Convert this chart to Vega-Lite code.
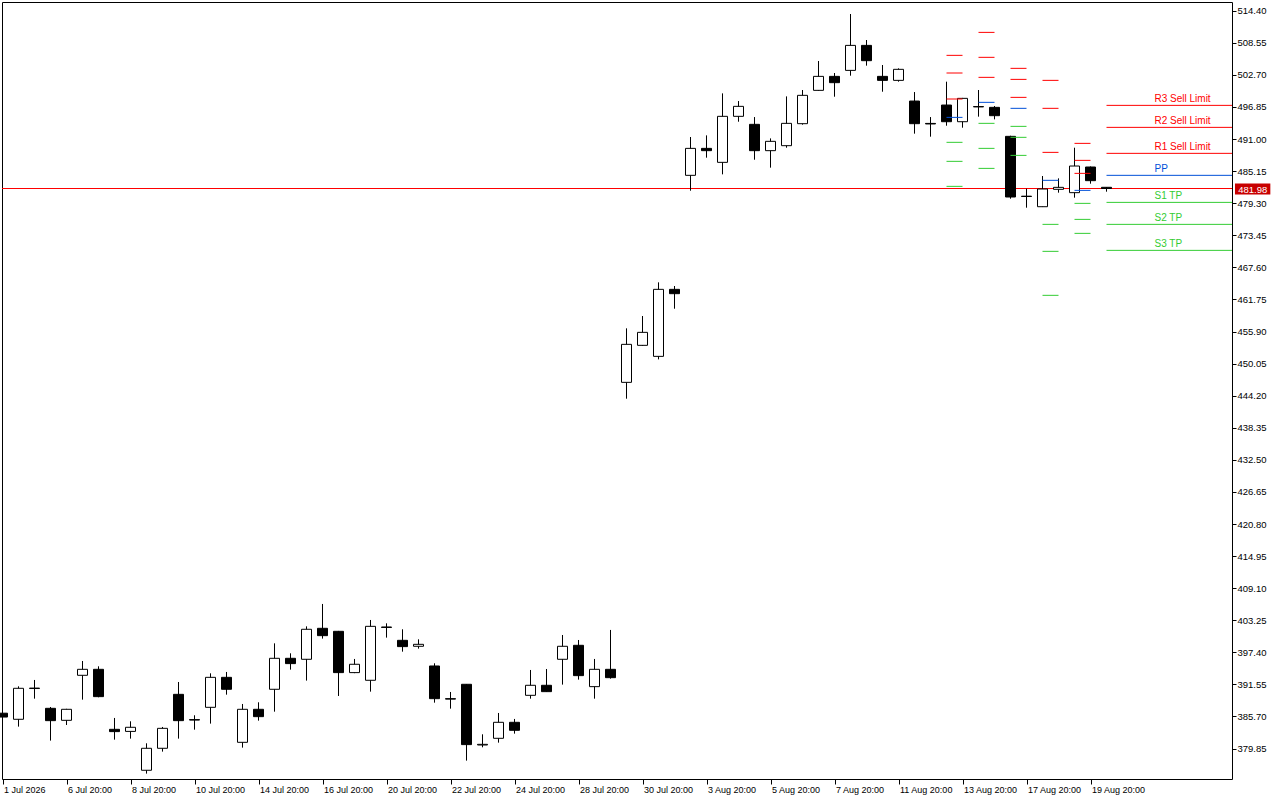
{
  "$schema": "https://vega.github.io/schema/vega-lite/v6.json",
  "width": 1230,
  "height": 777,
  "autosize": {"type": "none"},
  "padding": {"left": 2, "top": 2, "right": 48, "bottom": 21},
  "background": "white",
  "config": {
    "view": {"stroke": "black", "strokeWidth": 1},
    "scale": {"continuousPadding": 0},
    "axis": {"labelFont": "Liberation Sans", "labelColor": "black", "tickColor": "black", "domain": false, "grid": false, "title": null, "labelOverlap": false, "labelBound": false, "labelFlush": false}
  },
  "datasets": {
    "candles": [
      {"i":0,"o":386.3,"h":386.5,"l":385.5,"c":385.6},
      {"i":1,"o":385.19,"h":391.2,"l":383.85,"c":390.84},
      {"i":2,"o":390.8,"h":392.36,"l":388.95,"c":390.88},
      {"i":3,"o":387.19,"h":387.43,"l":381.3,"c":384.94},
      {"i":4,"o":385.0,"h":387.1,"l":384.15,"c":387.01},
      {"i":5,"o":393.21,"h":395.82,"l":388.77,"c":394.3},
      {"i":6,"o":394.3,"h":394.85,"l":389.2,"c":389.32},
      {"i":7,"o":383.36,"h":385.43,"l":381.48,"c":382.94},
      {"i":8,"o":382.98,"h":384.82,"l":381.66,"c":383.73},
      {"i":9,"o":375.89,"h":380.81,"l":375.28,"c":379.9},
      {"i":10,"o":379.9,"h":383.79,"l":379.29,"c":383.54},
      {"i":11,"o":389.74,"h":391.99,"l":381.66,"c":384.94},
      {"i":12,"o":385.13,"h":385.92,"l":383.3,"c":385.05},
      {"i":13,"o":387.37,"h":393.57,"l":384.4,"c":392.84},
      {"i":14,"o":392.84,"h":393.82,"l":389.68,"c":390.66},
      {"i":15,"o":380.99,"h":387.98,"l":380.02,"c":387.01},
      {"i":16,"o":387.01,"h":388.29,"l":384.94,"c":385.67},
      {"i":17,"o":390.66,"h":399.04,"l":386.58,"c":396.31},
      {"i":18,"o":396.31,"h":397.22,"l":394.24,"c":395.34},
      {"i":19,"o":396.13,"h":402.14,"l":392.24,"c":401.6},
      {"i":20,"o":401.78,"h":406.22,"l":399.9,"c":400.44},
      {"i":21,"o":401.23,"h":401.3,"l":389.44,"c":393.7},
      {"i":22,"o":393.7,"h":396.19,"l":393.6,"c":395.22},
      {"i":23,"o":392.3,"h":403.3,"l":390.23,"c":402.14},
      {"i":24,"o":402.02,"h":402.69,"l":400.08,"c":401.94},
      {"i":25,"o":399.59,"h":401.6,"l":397.52,"c":398.44},
      {"i":26,"o":398.5,"h":399.77,"l":398.07,"c":398.86},
      {"i":27,"o":394.91,"h":395.4,"l":388.22,"c":388.95},
      {"i":28,"o":388.95,"h":390.17,"l":387.13,"c":388.87},
      {"i":29,"o":391.57,"h":391.6,"l":377.65,"c":380.57},
      {"i":30,"o":380.5,"h":382.45,"l":380.08,"c":380.62},
      {"i":31,"o":381.72,"h":386.34,"l":380.93,"c":384.64},
      {"i":32,"o":384.64,"h":385.25,"l":382.57,"c":383.18},
      {"i":33,"o":389.56,"h":394.18,"l":388.95,"c":391.39},
      {"i":34,"o":391.39,"h":394.36,"l":390.2,"c":390.23},
      {"i":35,"o":396.13,"h":400.56,"l":391.51,"c":398.5},
      {"i":36,"o":398.68,"h":399.65,"l":392.42,"c":393.15},
      {"i":37,"o":391.14,"h":396.19,"l":388.95,"c":394.3},
      {"i":38,"o":394.3,"h":401.48,"l":392.6,"c":392.78},
      {"i":39,"o":446.63,"h":456.48,"l":443.65,"c":453.56},
      {"i":40,"o":453.38,"h":458.73,"l":453.3,"c":455.75},
      {"i":41,"o":451.37,"h":464.87,"l":450.82,"c":463.59},
      {"i":42,"o":463.59,"h":464.2,"l":460.06,"c":462.8},
      {"i":43,"o":484.38,"h":491.37,"l":481.58,"c":489.3},
      {"i":44,"o":489.3,"h":491.67,"l":487.6,"c":488.88},
      {"i":45,"o":486.75,"h":499.33,"l":484.56,"c":495.14},
      {"i":46,"o":495.14,"h":497.93,"l":494.16,"c":496.96},
      {"i":47,"o":493.68,"h":495.01,"l":487.23,"c":488.88},
      {"i":48,"o":488.88,"h":491.12,"l":485.78,"c":490.58},
      {"i":49,"o":489.79,"h":498.78,"l":489.42,"c":493.86},
      {"i":50,"o":493.8,"h":499.94,"l":493.62,"c":498.97},
      {"i":51,"o":499.88,"h":505.23,"l":499.8,"c":502.43},
      {"i":52,"o":502.43,"h":503.04,"l":498.72,"c":501.28},
      {"i":53,"o":503.52,"h":513.8,"l":502.55,"c":508.08},
      {"i":54,"o":508.08,"h":509.06,"l":504.38,"c":505.29},
      {"i":55,"o":502.43,"h":504.5,"l":499.63,"c":501.7},
      {"i":56,"o":501.7,"h":503.89,"l":501.46,"c":503.71},
      {"i":57,"o":497.93,"h":499.57,"l":491.98,"c":493.8},
      {"i":58,"o":493.85,"h":495.01,"l":491.43,"c":493.75},
      {"i":59,"o":497.2,"h":501.46,"l":493.43,"c":494.16},
      {"i":60,"o":494.16,"h":498.5,"l":493.07,"c":498.42},
      {"i":61,"o":496.92,"h":499.94,"l":495.08,"c":496.86},
      {"i":62,"o":496.78,"h":497.02,"l":494.59,"c":495.26},
      {"i":63,"o":491.49,"h":491.6,"l":480.12,"c":480.43},
      {"i":64,"o":480.58,"h":481.95,"l":478.48,"c":480.52},
      {"i":65,"o":478.66,"h":484.26,"l":478.6,"c":481.89},
      {"i":66,"o":481.83,"h":483.83,"l":481.22,"c":482.19},
      {"i":67,"o":481.22,"h":489.42,"l":480.31,"c":486.08},
      {"i":68,"o":485.9,"h":486.0,"l":482.86,"c":483.41},
      {"i":69,"o":482.2,"h":482.25,"l":481.4,"c":481.98}
    ],
    "levels": [
      {"start":59,"end":60,"kind":"R","price":506.26},
      {"start":59,"end":60,"kind":"R","price":503.04},
      {"start":59,"end":60,"kind":"R","price":498.30},
      {"start":59,"end":60,"kind":"P","price":494.95},
      {"start":59,"end":60,"kind":"S","price":490.40},
      {"start":59,"end":60,"kind":"S","price":486.93},
      {"start":59,"end":60,"kind":"S","price":482.37},
      {"start":61,"end":62,"kind":"R","price":510.45},
      {"start":61,"end":62,"kind":"R","price":505.90},
      {"start":61,"end":62,"kind":"R","price":502.25},
      {"start":61,"end":62,"kind":"P","price":497.69},
      {"start":61,"end":62,"kind":"S","price":493.86},
      {"start":61,"end":62,"kind":"S","price":489.30},
      {"start":61,"end":62,"kind":"S","price":485.65},
      {"start":63,"end":64,"kind":"R","price":503.89},
      {"start":63,"end":64,"kind":"R","price":501.88},
      {"start":63,"end":64,"kind":"R","price":498.60},
      {"start":63,"end":64,"kind":"P","price":496.60},
      {"start":63,"end":64,"kind":"S","price":493.31},
      {"start":63,"end":64,"kind":"S","price":491.31},
      {"start":63,"end":64,"kind":"S","price":488.02},
      {"start":65,"end":66,"kind":"R","price":501.70},
      {"start":65,"end":66,"kind":"R","price":496.60},
      {"start":65,"end":66,"kind":"R","price":488.57},
      {"start":65,"end":66,"kind":"P","price":483.47},
      {"start":65,"end":66,"kind":"S","price":475.44},
      {"start":65,"end":66,"kind":"S","price":470.52},
      {"start":65,"end":66,"kind":"S","price":462.50},
      {"start":67,"end":68,"kind":"R","price":490.21},
      {"start":67,"end":68,"kind":"R","price":487.11},
      {"start":67,"end":68,"kind":"R","price":484.74},
      {"start":67,"end":68,"kind":"P","price":481.64},
      {"start":67,"end":68,"kind":"S","price":479.27},
      {"start":67,"end":68,"kind":"S","price":476.35},
      {"start":67,"end":68,"kind":"S","price":473.80}
    ],
    "current": [
      {"label":"R3 Sell Limit","kind":"R","price":497.14},
      {"label":"R2 Sell Limit","kind":"R","price":493.13},
      {"label":"R1 Sell Limit","kind":"R","price":488.39},
      {"label":"PP","kind":"P","price":484.38},
      {"label":"S1 TP","kind":"S","price":479.45},
      {"label":"S2 TP","kind":"S","price":475.44},
      {"label":"S3 TP","kind":"S","price":470.70}
    ],
    "last": [{"price":481.98,"text":"481.98"}]
  },
  "layer": [
    {
      "data": {"name": "last"},
      "mark": {"type": "rule", "color": "#FF0000", "strokeWidth": 1},
      "encoding": {
        "y": {"field": "price", "type": "quantitative", "scale": {"domain": [374.30, 515.99], "nice": false, "zero": false, "padding": 0},
          "axis": {"orient": "right", "values": [379.85,385.70,391.55,397.40,403.25,409.10,414.95,420.80,426.65,432.50,438.35,444.20,450.05,455.90,461.75,467.60,473.45,479.30,485.15,491.00,496.85,502.70,508.55,514.40],
            "tickCount": 40, "format": ".2f", "tickSize": 4, "labelPadding": 1, "labelFontSize": 9.5, "labelOverlap": false, "labelBound": false, "labelFlush": false}}
      }
    },
    {
      "data": {"name": "candles"},
      "mark": {"type": "rule", "color": "black", "strokeWidth": 1},
      "encoding": {
        "x": {"field": "i", "type": "quantitative", "scale": {"domain": [-0.03125, 76.84375], "nice": false, "zero": false, "padding": 0},
          "axis": {"orient": "bottom", "values": [0,4,8,12,16,20,24,28,32,36,40,44,48,52,56,60,64,68], "tickCount": 40,
            "labelExpr": "['1 Jul 2026','6 Jul 20:00','8 Jul 20:00','10 Jul 20:00','14 Jul 20:00','16 Jul 20:00','20 Jul 20:00','22 Jul 20:00','24 Jul 20:00','28 Jul 20:00','30 Jul 20:00','3 Aug 20:00','5 Aug 20:00','7 Aug 20:00','11 Aug 20:00','13 Aug 20:00','17 Aug 20:00','19 Aug 20:00'][round(datum.value/4)]",
            "labelAlign": "left", "labelOffset": 1, "tickSize": 5, "labelPadding": 1, "labelFontSize": 9, "labelOverlap": false, "labelBound": false, "labelFlush": false}},
        "y": {"field": "l", "type": "quantitative"},
        "y2": {"field": "h"}
      }
    },
    {
      "data": {"name": "candles"},
      "mark": {"type": "bar", "size": 10, "stroke": "black", "strokeWidth": 1},
      "encoding": {
        "x": {"field": "i", "type": "quantitative"},
        "y": {"field": "o", "type": "quantitative"},
        "y2": {"field": "c"},
        "fill": {"condition": {"test": "datum.c < datum.o", "value": "black"}, "value": "white"}
      }
    },
    {
      "data": {"name": "levels"},
      "mark": {"type": "rule", "strokeWidth": 1},
      "encoding": {
        "x": {"field": "start", "type": "quantitative"},
        "x2": {"field": "end"},
        "y": {"field": "price", "type": "quantitative"},
        "color": {"field": "kind", "type": "nominal", "scale": {"domain": ["R","P","S"], "range": ["#FF0000","#0050D8","#33CC33"]}, "legend": null}
      }
    },
    {
      "data": {"name": "current"},
      "mark": {"type": "rule", "strokeWidth": 1},
      "encoding": {
        "x": {"datum": 69, "type": "quantitative"},
        "x2": {"datum": 76.84375},
        "y": {"field": "price", "type": "quantitative"},
        "color": {"field": "kind", "type": "nominal", "legend": null}
      }
    },
    {
      "data": {"name": "current"},
      "mark": {"type": "text", "align": "left", "baseline": "alphabetic", "dy": -3, "font": "Liberation Sans", "fontSize": 10},
      "encoding": {
        "x": {"datum": 72, "type": "quantitative"},
        "y": {"field": "price", "type": "quantitative"},
        "text": {"field": "label"},
        "color": {"field": "kind", "type": "nominal", "legend": null}
      }
    },
    {
      "data": {"name": "last"},
      "mark": {"type": "rect", "color": "#C80000", "yOffset": -5, "y2Offset": 6},
      "encoding": {
        "x": {"datum": 77.03, "type": "quantitative"},
        "x2": {"datum": 79.24},
        "y": {"field": "price", "type": "quantitative"},
        "y2": {"field": "price"}
      }
    },
    {
      "data": {"name": "last"},
      "mark": {"type": "text", "color": "white", "align": "center", "baseline": "middle", "dy": 1, "font": "Liberation Sans", "fontSize": 9.5},
      "encoding": {
        "x": {"datum": 78.14, "type": "quantitative"},
        "y": {"field": "price", "type": "quantitative"},
        "text": {"field": "text"}
      }
    }
  ]
}
